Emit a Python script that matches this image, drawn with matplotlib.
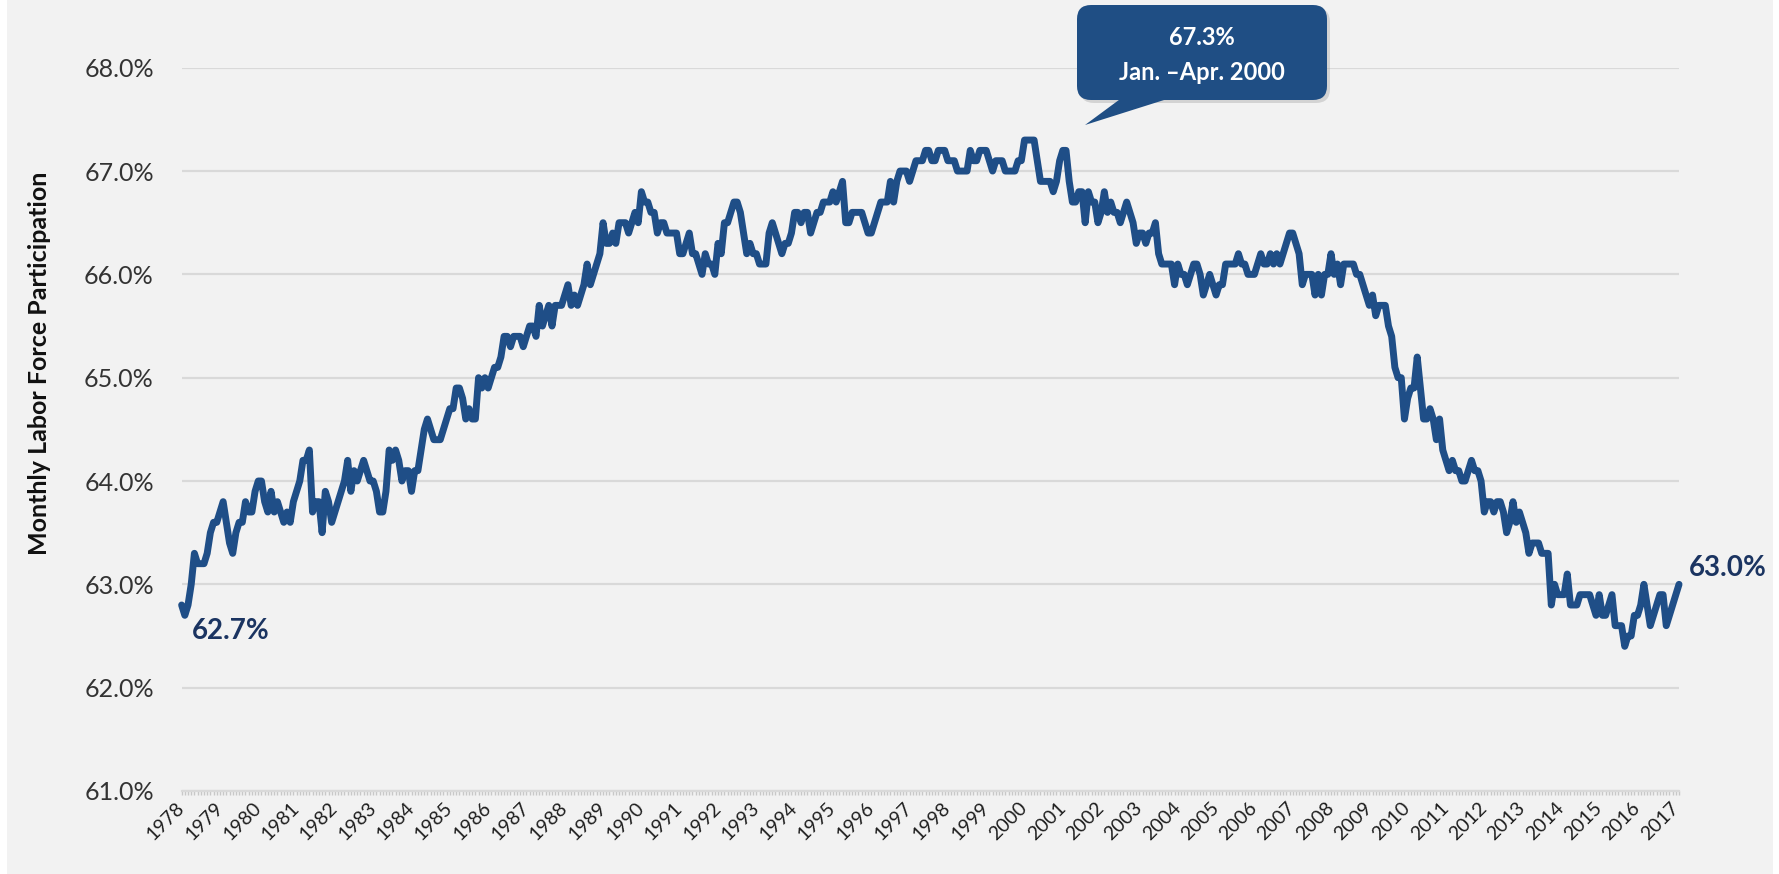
import numpy as np
import matplotlib.pyplot as plt
from matplotlib.patches import FancyBboxPatch, Polygon, Rectangle

plt.rcParams['font.family'] = ['Lato', 'DejaVu Sans']

# monthly labor force participation rate (%), Jan 1978 - Feb 2017
start_year = 1978
lfpr = [
    62.8, 62.7, 62.8, 63.0, 63.3, 63.2, 63.2, 63.2, 63.3, 63.5, 63.6, 63.6,  # 1978
    63.7, 63.8, 63.6, 63.4, 63.3, 63.5, 63.6, 63.6, 63.8, 63.7, 63.7, 63.9,  # 1979
    64.0, 64.0, 63.8, 63.7, 63.9, 63.7, 63.8, 63.7, 63.6, 63.7, 63.6, 63.8,  # 1980
    63.9, 64.0, 64.2, 64.2, 64.3, 63.7, 63.8, 63.8, 63.5, 63.9, 63.8, 63.6,  # 1981
    63.7, 63.8, 63.9, 64.0, 64.2, 63.9, 64.1, 64.0, 64.1, 64.2, 64.1, 64.0,  # 1982
    64.0, 63.9, 63.7, 63.7, 63.9, 64.3, 64.2, 64.3, 64.2, 64.0, 64.1, 64.1,  # 1983
    63.9, 64.1, 64.1, 64.3, 64.5, 64.6, 64.5, 64.4, 64.4, 64.4, 64.5, 64.6,  # 1984
    64.7, 64.7, 64.9, 64.9, 64.8, 64.6, 64.7, 64.6, 64.6, 65.0, 64.9, 65.0,  # 1985
    64.9, 65.0, 65.1, 65.1, 65.2, 65.4, 65.4, 65.3, 65.4, 65.4, 65.4, 65.3,  # 1986
    65.4, 65.5, 65.5, 65.4, 65.7, 65.5, 65.6, 65.7, 65.5, 65.7, 65.7, 65.7,  # 1987
    65.8, 65.9, 65.7, 65.8, 65.7, 65.8, 65.9, 66.1, 65.9, 66.0, 66.1, 66.2,  # 1988
    66.5, 66.3, 66.3, 66.4, 66.3, 66.5, 66.5, 66.5, 66.4, 66.5, 66.6, 66.5,  # 1989
    66.8, 66.7, 66.7, 66.6, 66.6, 66.4, 66.5, 66.5, 66.4, 66.4, 66.4, 66.4,  # 1990
    66.2, 66.2, 66.3, 66.4, 66.2, 66.2, 66.1, 66.0, 66.2, 66.1, 66.1, 66.0,  # 1991
    66.3, 66.2, 66.5, 66.5, 66.6, 66.7, 66.7, 66.6, 66.4, 66.2, 66.3, 66.2,  # 1992
    66.2, 66.1, 66.1, 66.1, 66.4, 66.5, 66.4, 66.3, 66.2, 66.3, 66.3, 66.4,  # 1993
    66.6, 66.6, 66.5, 66.6, 66.6, 66.4, 66.5, 66.6, 66.6, 66.7, 66.7, 66.7,  # 1994
    66.8, 66.7, 66.8, 66.9, 66.5, 66.5, 66.6, 66.6, 66.6, 66.6, 66.5, 66.4,  # 1995
    66.4, 66.5, 66.6, 66.7, 66.7, 66.7, 66.9, 66.7, 66.9, 67.0, 67.0, 67.0,  # 1996
    66.9, 67.0, 67.1, 67.1, 67.1, 67.2, 67.2, 67.1, 67.1, 67.2, 67.2, 67.2,  # 1997
    67.1, 67.1, 67.1, 67.0, 67.0, 67.0, 67.0, 67.2, 67.1, 67.1, 67.2, 67.2,  # 1998
    67.2, 67.1, 67.0, 67.1, 67.1, 67.1, 67.0, 67.0, 67.0, 67.0, 67.1, 67.1,  # 1999
    67.3, 67.3, 67.3, 67.3, 67.1, 66.9, 66.9, 66.9, 66.9, 66.8, 66.9, 67.1,  # 2000
    67.2, 67.2, 66.9, 66.7, 66.7, 66.8, 66.8, 66.5, 66.8, 66.7, 66.7, 66.5,  # 2001
    66.6, 66.8, 66.6, 66.7, 66.6, 66.6, 66.5, 66.6, 66.7, 66.6, 66.5, 66.3,  # 2002
    66.4, 66.4, 66.3, 66.4, 66.4, 66.5, 66.2, 66.1, 66.1, 66.1, 66.1, 65.9,  # 2003
    66.1, 66.0, 66.0, 65.9, 66.0, 66.1, 66.1, 66.0, 65.8, 65.9, 66.0, 65.9,  # 2004
    65.8, 65.9, 65.9, 66.1, 66.1, 66.1, 66.1, 66.2, 66.1, 66.1, 66.0, 66.0,  # 2005
    66.0, 66.1, 66.2, 66.1, 66.1, 66.2, 66.1, 66.2, 66.1, 66.2, 66.3, 66.4,  # 2006
    66.4, 66.3, 66.2, 65.9, 66.0, 66.0, 66.0, 65.8, 66.0, 65.8, 66.0, 66.0,  # 2007
    66.2, 66.0, 66.1, 65.9, 66.1, 66.1, 66.1, 66.1, 66.0, 66.0, 65.9, 65.8,  # 2008
    65.7, 65.8, 65.6, 65.7, 65.7, 65.7, 65.5, 65.4, 65.1, 65.0, 65.0, 64.6,  # 2009
    64.8, 64.9, 64.9, 65.2, 64.9, 64.6, 64.6, 64.7, 64.6, 64.4, 64.6, 64.3,  # 2010
    64.2, 64.1, 64.2, 64.1, 64.1, 64.0, 64.0, 64.1, 64.2, 64.1, 64.1, 64.0,  # 2011
    63.7, 63.8, 63.8, 63.7, 63.8, 63.8, 63.7, 63.5, 63.6, 63.8, 63.6, 63.7,  # 2012
    63.6, 63.5, 63.3, 63.4, 63.4, 63.4, 63.3, 63.3, 63.3, 62.8, 63.0, 62.9,  # 2013
    62.9, 62.9, 63.1, 62.8, 62.8, 62.8, 62.9, 62.9, 62.9, 62.9, 62.8, 62.7,  # 2014
    62.9, 62.7, 62.7, 62.8, 62.9, 62.6, 62.6, 62.6, 62.4, 62.5, 62.5, 62.7,  # 2015
    62.7, 62.8, 63.0, 62.8, 62.6, 62.7, 62.8, 62.9, 62.9, 62.6, 62.7, 62.8,  # 2016
    62.9, 63.0,                                                              # 2017
]
years = list(range(1978, 2018))
y_ticks = [61.0, 62.0, 63.0, 64.0, 65.0, 66.0, 67.0, 68.0]
peak_text = ['67.3%', 'Jan. \u2013Apr. 2000']

line_color = '#1f4e87'
label_color = '#1b3461'
bg = '#f2f2f2'

t = start_year + np.arange(len(lfpr)) / 12

fig = plt.figure(figsize=(17.79, 8.74), dpi=100)
fig.patch.set_facecolor('white')
# grey chart area with a thin white margin at the sides
fig.add_artist(Rectangle((0.07, 0), 17.66, 8.74, transform=fig.dpi_scale_trans,
                         facecolor=bg, edgecolor='none', zorder=0))

ax = fig.add_axes([0.1021, 0.095, 0.8417, 0.8275])
ax.set_facecolor(bg)

ax.plot(t, lfpr, color=line_color, lw=5.0, solid_joinstyle='round',
        solid_capstyle='round', zorder=3, clip_on=False)

ax.set_ylim(y_ticks[0], y_ticks[-1])
ax.set_xlim(t[0], t[-1])
ax.set_yticks(y_ticks)
ax.set_yticklabels([f'{v:.1f}%' for v in y_ticks])
ax.grid(axis='y', color='#d9d9d9', lw=1.6)
ax.set_axisbelow(True)
for s in ['top', 'right', 'left']:
    ax.spines[s].set_visible(False)
ax.spines['bottom'].set_color('#d9d9d9')
ax.spines['bottom'].set_linewidth(1.6)

ax.tick_params(axis='y', length=0, pad=20, labelsize=18, labelcolor='#333333')
ax.set_xticks(years)
ax.set_xticklabels([str(y) for y in years], rotation=45, ha='right',
                   va='center', rotation_mode='anchor')
ax.set_xticks(t, minor=True)
ax.tick_params(axis='x', which='both', length=3, width=1, color='#c8c8c8',
               labelsize=14, labelcolor='#1f1f1f', pad=7)

fig.text(40 / 1779, 1 - 363 / 874, 'Monthly Labor Force Participation',
         rotation=90, ha='center', va='center', fontsize=18,
         fontweight='bold', color='#111111')

# end-point labels
ax.annotate(f'{lfpr[1]:.1f}%', xy=(t[1], lfpr[1]), xytext=(5, -2),
            textcoords='offset points', ha='left', va='top',
            fontsize=20, fontweight='bold', color=label_color)
ax.annotate(f'{lfpr[-1]:.1f}%', xy=(t[-1], lfpr[-1]), xytext=(7, 12),
            textcoords='offset points', ha='left', va='center',
            fontsize=20, fontweight='bold', color=label_color)

# callout for the peak (figure inches, 1 in = 100 px)
tr = fig.dpi_scale_trans
box_color = '#1f4e84'
shadow = FancyBboxPatch((10.80, 7.71), 2.5, 0.95,
                        boxstyle='round,pad=0,rounding_size=0.14',
                        transform=tr, facecolor='#9a9a9a', alpha=0.35,
                        edgecolor='none', zorder=5)
box = FancyBboxPatch((10.77, 7.74), 2.5, 0.95,
                     boxstyle='round,pad=0,rounding_size=0.14',
                     transform=tr, facecolor=box_color, edgecolor='none',
                     zorder=6)
pointer = Polygon([(11.27, 7.80), (11.83, 7.80), (10.85, 7.49)],
                  closed=True, transform=tr, facecolor=box_color,
                  edgecolor='none', zorder=6)
for p in (shadow, box, pointer):
    fig.add_artist(p)
fig.text(12.02, 8.37, peak_text[0], transform=tr, ha='center', va='center',
         fontsize=17, fontweight='bold', color='white', zorder=7)
fig.text(12.02, 8.02, peak_text[1], transform=tr, ha='center', va='center',
         fontsize=17, fontweight='bold', color='white', zorder=7)

fig.savefig('out.png', dpi=100, facecolor='white')
